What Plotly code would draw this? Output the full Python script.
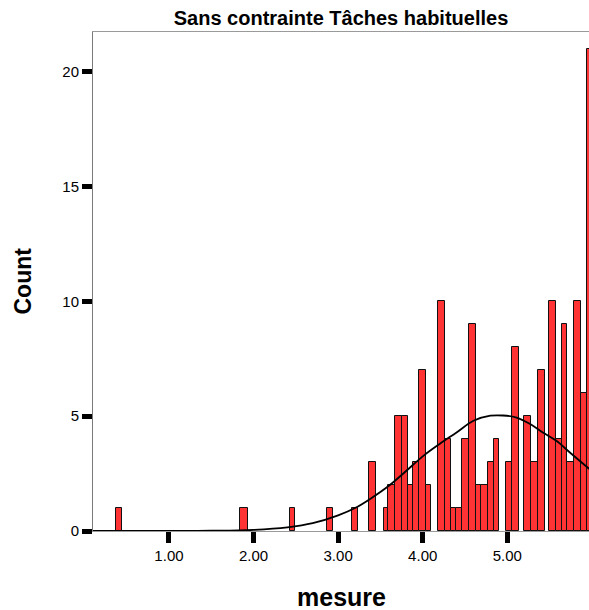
import plotly.graph_objects as go

# Histogram bins (lower / upper edges on the "mesure" scale) and their counts
bin_lo = [0.37, 1.84, 2.43, 2.87, 3.16, 3.37, 3.54, 3.59, 3.67, 3.75, 3.83, 3.88,
          3.96, 4.04, 4.18, 4.26, 4.34, 4.39, 4.47, 4.55, 4.63, 4.69, 4.77, 4.84,
          4.98, 5.06, 5.20, 5.28, 5.36, 5.49, 5.58, 5.65, 5.71, 5.79, 5.87, 5.94]
bin_hi = [0.44, 1.93, 2.49, 2.94, 3.24, 3.45, 3.59, 3.67, 3.75, 3.83, 3.88, 3.96,
          4.04, 4.10, 4.26, 4.34, 4.39, 4.47, 4.55, 4.63, 4.69, 4.77, 4.84, 4.90,
          5.06, 5.14, 5.28, 5.36, 5.44, 5.58, 5.65, 5.71, 5.79, 5.87, 5.94, 6.03]
counts = [1, 1, 1, 1, 1, 3, 1, 2, 5, 5, 2, 3,
          7, 2, 10, 4, 1, 1, 4, 9, 2, 2, 3, 4,
          3, 8, 5, 3, 7, 10, 4, 9, 3, 10, 6, 21]

# Normal curve overlay, sampled along the axis
curve_x = [0.10, 1.0, 1.5, 2.0, 2.4, 2.7, 3.0, 3.2, 3.4, 3.6, 3.8, 4.0, 4.2,
           4.4, 4.6, 4.8, 4.95, 5.1, 5.27, 5.42, 5.58, 5.74, 5.97]
curve_y = [0.0, 0.0, 0.01, 0.05, 0.16, 0.34, 0.68, 1.0, 1.45, 1.97, 2.6, 3.25,
           3.79, 4.29, 4.8, 5.02, 5.03, 4.95, 4.66, 4.29, 3.93, 3.42, 2.7]

x_ticks = [1, 2, 3, 4, 5]
x_tick_text = ["1.00", "2.00", "3.00", "4.00", "5.00"]
y_ticks = [0, 5, 10, 15, 20]

centers = [(a + b) / 2 for a, b in zip(bin_lo, bin_hi)]
widths = [b - a for a, b in zip(bin_lo, bin_hi)]

FONT = "Liberation Sans, Arial, Helvetica, sans-serif"

fig = go.Figure()
fig.add_trace(go.Bar(
    x=centers, y=counts, width=widths,
    marker=dict(color="#ff3333", line=dict(color="#111111", width=1)),
    hoverinfo="skip",
))
fig.add_trace(go.Scatter(
    x=curve_x, y=curve_y, mode="lines",
    line=dict(color="black", width=1.8, shape="spline"),
    hoverinfo="skip",
))

fig.update_layout(
    width=589, height=610,
    margin=dict(l=93, r=0, t=32, b=79),
    paper_bgcolor="white", plot_bgcolor="white",
    showlegend=False,
    bargap=0,
    font=dict(family=FONT, color="black"),
    title=dict(text="<b>Sans contrainte Tâches habituelles</b>",
               x=0.5, xref="paper", xanchor="center",
               y=1 - 18 / 610, yref="container", yanchor="middle",
               font=dict(size=20, family=FONT, color="black")),
    xaxis=dict(range=[0.102, 5.966], tickvals=x_ticks, ticktext=x_tick_text,
               ticks="outside", ticklen=11, tickwidth=5, tickcolor="black",
               showline=True, linecolor="#9a9a9a", linewidth=1, mirror=True,
               showgrid=False, zeroline=False,
               tickfont=dict(size=15, family=FONT, color="black")),
    yaxis=dict(range=[0, 21.73], tickvals=y_ticks,
               ticks="outside", ticklen=10, tickwidth=5, tickcolor="black",
               showline=True, linecolor="#7a7a7a", linewidth=1, mirror=True,
               showgrid=False, zeroline=False,
               tickfont=dict(size=15, family=FONT, color="black")),
    annotations=[
        dict(text="<b>mesure</b>", xref="paper", yref="paper",
             x=0.5, y=-(597 - 531) / 499, xanchor="center", yanchor="middle",
             showarrow=False, font=dict(size=25, family=FONT, color="black")),
        dict(text="<b>Count</b>", xref="paper", yref="paper",
             x=-(93 - 22) / 496, y=0.5, xanchor="center", yanchor="middle",
             textangle=-90, showarrow=False,
             font=dict(size=23, family=FONT, color="black")),
    ],
)

fig.write_html("out.html")
